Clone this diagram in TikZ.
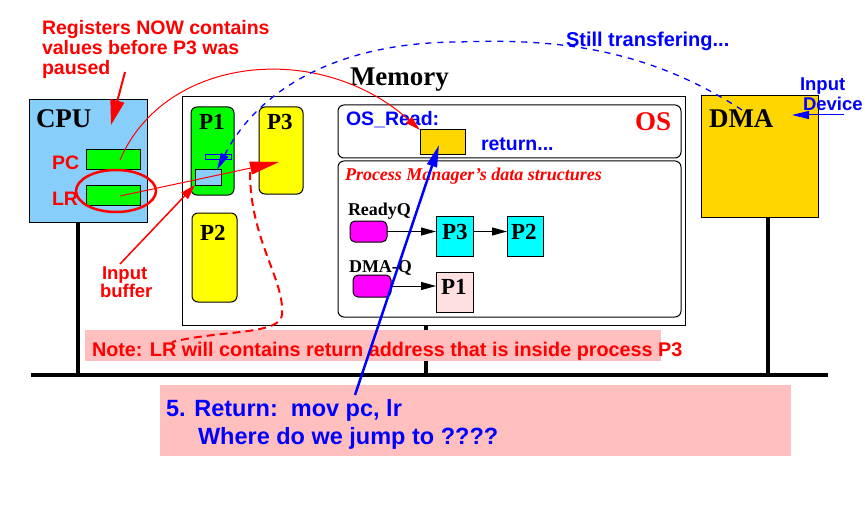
\documentclass[tikz,border=0pt]{standalone}
\usepackage{fontspec}
\setmainfont{Liberation Serif}
\newfontfamily\hv{Liberation Sans}
\usetikzlibrary{arrows.meta,shapes.geometric}
\definecolor{cpublue}{RGB}{135,206,250}
\definecolor{gold}{RGB}{255,215,0}
\definecolor{notepink}{RGB}{255,191,191}
\definecolor{qpink}{RGB}{255,224,224}
\definecolor{pgreen}{RGB}{0,255,0}
\definecolor{pyellow}{RGB}{255,255,0}
\definecolor{qcyan}{RGB}{0,255,255}
\definecolor{qmag}{RGB}{255,0,255}
\definecolor{myred}{RGB}{255,0,0}
\definecolor{myblue}{RGB}{0,0,255}
\tikzset{
  box/.style={draw=black, line width=1pt, inner sep=0pt, outer sep=0pt, anchor=north west},
  rbox/.style={box, rounded corners=6pt},
  txt/.style={inner sep=0pt, outer sep=0pt, anchor=base west},
  sansb/.style={txt, font=\hv\bfseries\fontsize{19.5}{20}\selectfont},
  bigsans/.style={txt, font=\hv\bfseries\fontsize{23.5}{24}\selectfont},
  bigserif/.style={txt, font=\bfseries\fontsize{27}{28}\selectfont},
  pfont/.style={txt, font=\bfseries\fontsize{23}{24}\selectfont},
  qfont/.style={txt, font=\bfseries\fontsize{18}{19}\selectfont},
  bus/.style={line width=4pt},
  qarrow/.style={draw=black, line width=1pt, -{Triangle[length=15pt,width=8pt]}},
}
\begin{document}
\begin{tikzpicture}[x=1pt,y=-1pt]
\useasboundingbox (0,0) rectangle (865,516);

% ---------- CPU ----------
\node[box, fill=cpublue, minimum width=118, minimum height=122] (cpu) at (29,100) {};
\node[bigserif] (cputxt) at (36,128) {CPU};
\node[box, fill=pgreen, minimum width=54, minimum height=20] (pc) at (86,150) {};
\node[box, fill=pgreen, minimum width=54, minimum height=20] (lr) at (86,185) {};
\node[sansb, text=myred] (pctxt) at (52,170) {PC};
\node[sansb, text=myred] (lrtxt) at (52,205) {LR};
\node[draw=myred, line width=2.5pt, ellipse, minimum width=80, minimum height=42, inner sep=0pt] (ring) at (116,191) {};

% ---------- Memory ----------
\node[box, fill=white, minimum width=503, minimum height=228] (mem) at (182,97) {};
\node[bigserif] (memtxt) at (350,86) {Memory};
\node[rbox, fill=pgreen, minimum width=43, minimum height=88] (p1) at (191,107) {};
\node[rbox, fill=pyellow, minimum width=44, minimum height=87] (p3) at (259,107) {};
\node[rbox, fill=pyellow, minimum width=45, minimum height=89] (p2) at (192,213) {};
\node[pfont] (p1txt) at (199,130) {P1};
\node[pfont] (p3txt) at (267,130) {P3};
\node[pfont] (p2txt) at (200,240) {P2};
\node[box, draw=myblue, minimum width=26, minimum height=5] (slot) at (205,155) {};
\node[box, fill=cpublue, minimum width=26, minimum height=15] (buf) at (195,170) {};

% OS part
\node[rbox, minimum width=343, minimum height=53] (os) at (338,105) {};
\node[sansb, text=myblue] (osread) at (346,126) {OS\_Read:};
\node[bigserif, text=myred] (ostxt) at (635,131) {OS};
\node[box, fill=gold, minimum width=45, minimum height=25] (osr) at (420,130) {};
\node[sansb, text=myblue] (rettxt) at (481,150) {return...};

% Process manager part
\node[rbox, minimum width=343, minimum height=156] (pm) at (338,161) {};
\node[txt, text=myred, font=\bfseries\itshape\fontsize{18}{19}\selectfont] (pmtxt) at (345,180) {Process Manager’s data structures};
\node[qfont] (rq) at (348,215) {ReadyQ};
\node[rbox, rounded corners=5pt, fill=qmag, minimum width=37, minimum height=21] (m1) at (350,221) {};
\node[box, fill=qcyan, minimum width=37, minimum height=40] (q3) at (436,216) {};
\node[box, fill=qcyan, minimum width=36, minimum height=40] (q2) at (507,216) {};
\node[pfont] (q3txt) at (442,239) {P3};
\node[pfont] (q2txt) at (511,239) {P2};
\node[qfont] (dq) at (349,272) {DMA-Q};
\node[rbox, rounded corners=5pt, fill=qmag, minimum width=38, minimum height=22] (m2) at (353,275) {};
\node[box, fill=qpink, minimum width=37, minimum height=40] (q1) at (436,272) {};
\node[pfont] (q1txt) at (441,294) {P1};
\draw[qarrow] (m1.east) -- (m1.east -| q3.west);
\draw[qarrow] (q3.east |- m1.east) -- (q2.west |- m1.east);
\draw[qarrow] (m2.east) -- (m2.east -| q1.west);

% ---------- DMA ----------
\node[box, fill=gold, minimum width=117, minimum height=121] (dma) at (701,96) {};
\node[bigserif] (dmatxt) at (709,128) {DMA};
\node[sansb, text=myblue, font=\hv\bfseries\fontsize{18.5}{20}\selectfont] (inp1) at (800,91) {Input};
\node[sansb, text=myblue, font=\hv\bfseries\fontsize{18.5}{20}\selectfont] (inp2) at (803,111) {Device};
\coordinate (devsrc) at (844,115);
\coordinate (devtip) at (792,115);
\draw[myblue, line width=1pt, -{Triangle[length=17pt,width=8pt]}] (devsrc) -- (devtip);

% ---------- bus ----------
\coordinate (busL) at (31,375);
\coordinate (busR) at (828,375);
\coordinate (b1) at (78,375);
\coordinate (b2) at (426,375);
\coordinate (b3) at (768,375);
\draw[bus] (busL) -- (busR);
\draw[bus] (b1 |- cpu.south) -- (b1);
\draw[bus] (b2 |- mem.south) -- (b2);
\draw[bus] (b3 |- dma.south) -- (b3);

% ---------- notes ----------
\node[box, draw=none, fill=notepink, minimum width=576, minimum height=31] (note) at (85,330) {};
\node[sansb, text=myred, font=\hv\bfseries\fontsize{19.8}{20}\selectfont] (notetxt) at (92,356) {Note: LR will contains return address that is inside process P3};
\node[box, draw=none, fill=notepink, minimum width=631, minimum height=71] (ret) at (160,385) {};
\node[bigsans, text=myblue] (ret1) at (166,416) {5. Return:\ \ mov pc, lr};
\node[bigsans, text=myblue] (ret2) at (198,444) {Where do we jump to ????};

\node[sansb, text=myred] (reg1) at (42,35) {Registers NOW contains};
\node[sansb, text=myred] (reg2) at (42,55) {values before P3 was};
\node[sansb, text=myred] (reg3) at (42,75) {paused};
\node[sansb, text=myblue, font=\hv\bfseries\fontsize{20}{21}\selectfont] (still) at (566,47) {Still transfering...};
\node[sansb, text=myred, font=\hv\bfseries\fontsize{18.5}{20}\selectfont] (ib1) at (102,279) {Input};
\node[sansb, text=myred, font=\hv\bfseries\fontsize{18.5}{20}\selectfont] (ib2) at (100,297) {buffer};

% ---------- connectors ----------
\coordinate (regsrc) at (125,72);
\coordinate (regtip) at (111,125);
\draw[myred, line width=2pt, -{Triangle[length=25pt,width=14pt]}] (regsrc) -- (regtip);

\coordinate (pcsrc) at (120,160);
\draw[myred, line width=1pt, -{Triangle[length=15pt,width=8pt]}] (pcsrc) .. controls (165,55) and (320,40) .. (osr.north west);

\coordinate (lrsrc) at (120,196);
\coordinate (p3in) at (279,162);
\draw[myred, line width=1pt, -{Triangle[length=29pt,width=13pt]}] (lrsrc) -- (p3in);

\coordinate (ibsrc) at (120,264);
\draw[myred, line width=1.5pt, -{Triangle[length=15pt,width=9pt]}] (ibsrc) -- (buf.south west);

\coordinate (dmasrc) at (742,110);
\coordinate (buftip) at (217,170);
\coordinate (arc) at (460,42);
\draw[myblue, line width=1.3pt, dash pattern=on 6pt off 6pt, -{Triangle[length=17pt,width=8pt]}]
  (dmasrc) .. controls (650,50) and (560,38) .. (arc) .. controls (330,42) and (255,95) .. (buftip);

\coordinate (lrstart) at (250,172);
\coordinate (lrbend) at (282,315);
\coordinate (lrend) at (172,342);
\draw[myred, line width=2pt, dash pattern=on 8pt off 5pt]
  (lrstart) .. controls (250,240) and (285,280) .. (lrbend) .. controls (280,335) and (220,330) .. (lrend);

\coordinate (retsrc) at (355,395);
\coordinate (rettip) at (439,145);
\draw[myblue, line width=2.5pt, -{Triangle[length=22pt,width=10pt]}] (retsrc) -- (rettip);
\end{tikzpicture}
\end{document}
